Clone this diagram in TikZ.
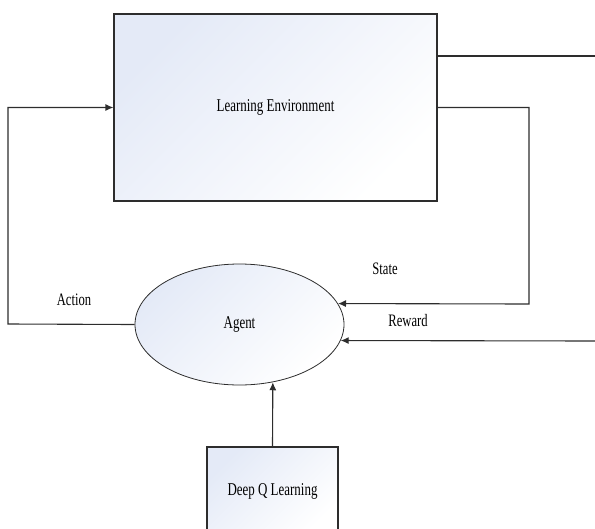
\documentclass[tikz,border=0pt]{standalone}
\usepackage{fontspec}
\setmainfont{Liberation Serif}
\usepackage{tikz}
\usetikzlibrary{arrows.meta,shapes.geometric}

\definecolor{boxline}{RGB}{45,45,45}
\definecolor{boxfill}{RGB}{228,234,247}
\newcommand{\squeeze}[1]{\scalebox{0.72}[1]{#1}}

\begin{document}
\begin{tikzpicture}[x=1pt,y=-1pt,>={Latex[length=8pt,width=7pt]}]

	\tikzstyle block=[draw=boxline, line width=1.1pt, top color=boxfill, bottom color=white, shading angle=45, inner sep=0pt, font=\fontsize{18}{20}\selectfont];
	\tikzstyle link lines=[draw=boxline, line width=1.1pt];
	\tikzstyle flow label=[font=\fontsize{17.5}{20}\selectfont, inner sep=0pt];

	\clip (0,0) rectangle (595,528);

	\node[block, rectangle, minimum width=323pt, minimum height=187pt] (env) at (275.5,107.5) {\squeeze{Learning Environment}};
	\node[block, ellipse, line width=0.8pt, minimum width=209pt, minimum height=121pt] (agent) at (239.5,324.5) {\squeeze{Agent}};
	\node[block, rectangle, minimum width=131pt, minimum height=88pt] (deepq) at (272.5,491) {\squeeze{Deep Q Learning}};

	\node[flow label] (action) at (74,300) {\squeeze{Action}};
	\node[flow label] (state) at (385,269) {\squeeze{State}};
	\node[flow label] (reward) at (408,321) {\squeeze{Reward}};

	\coordinate (topout) at (595,56);
	\coordinate (statecorner) at (529,304);
	\coordinate (rewardin) at (595,341);
	\coordinate (actioncorner) at (8,324);

	\draw[link lines] (env.east |- topout) -- (topout);
	\draw[link lines,->] (env.east) -| (statecorner) -- (agent.12);
	\draw[link lines,->] (rewardin) -- (agent.-9.3);
	\draw[link lines,->] (agent.west) -- (actioncorner) |- (env.west);
	\draw[link lines,->] (deepq.north) -- (agent.-60);

\end{tikzpicture}
\end{document}
